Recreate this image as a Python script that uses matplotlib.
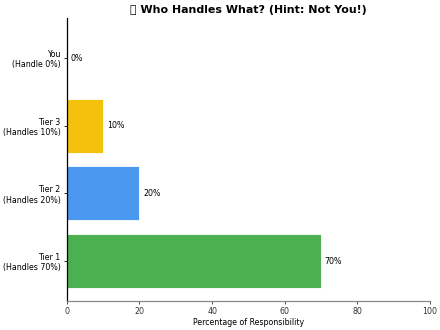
import matplotlib
matplotlib.use("Agg")
import matplotlib.pyplot as plt

categories = ["Tier 1\n(Handles 70%)", "Tier 2\n(Handles 20%)", "Tier 3\n(Handles 10%)", "You\n(Handle 0%)"]
values = [70, 20, 10, 0]
colors = ["#4CAF50", "#4A98F0", "#F4C20D", "#9E9E9E"]
title = "\U0001F916 Who Handles What? (Hint: Not You!)"
xlabel = "Percentage of Responsibility"

fs = 5.65
fig, ax = plt.subplots(figsize=(4.4, 3.3), dpi=100)
bars = ax.barh(range(len(categories)), values, color=colors, height=0.8,
               edgecolor="white", linewidth=0.6)
ax.set_yticks(range(len(categories)))
ax.set_yticklabels(categories, fontsize=fs)
ax.set_xlim(0, 100)
ax.tick_params(axis="x", labelsize=fs, length=2.5, width=0.6, colors="#333333", pad=1.5)
ax.tick_params(axis="y", length=2.5, width=0.6, pad=2)
for i, v in enumerate(values):
    ax.text(v + 1, i, f"{v}%", va="center", ha="left", fontsize=fs)
ax.set_xlabel(xlabel, fontsize=fs, labelpad=1.5)
ax.set_title(title, fontsize=7.9, fontweight="bold", pad=4)
ax.spines["top"].set_visible(False)
ax.spines["right"].set_visible(False)
ax.spines["left"].set_color("black")
ax.spines["left"].set_linewidth(0.9)
ax.spines["bottom"].set_color("#888888")
ax.spines["bottom"].set_linewidth(0.9)
fig.subplots_adjust(left=0.152, right=0.977, top=0.945, bottom=0.088)
fig.savefig("out.png", dpi=100)
